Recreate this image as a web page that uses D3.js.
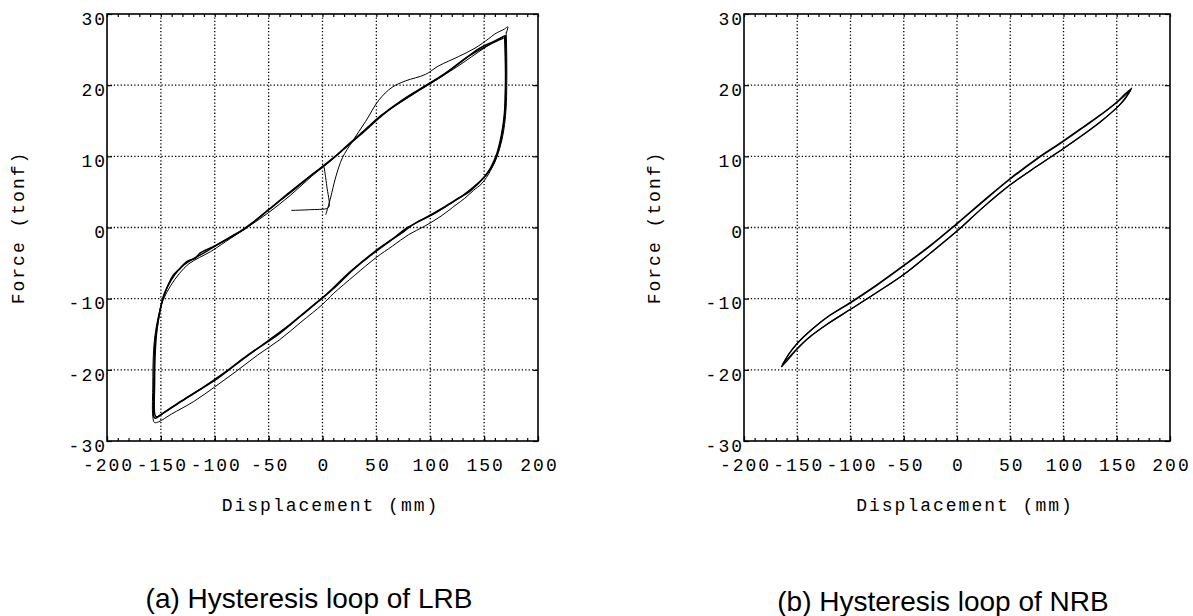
<!DOCTYPE html>
<html>
<head>
<meta charset="utf-8">
<script src="https://cdn.jsdelivr.net/npm/d3@7"></script>
<style>
  body { margin: 0; background: #fff; }
  svg { display: block; }
</style>
</head>
<body>
<svg id="chart" width="1193" height="616"></svg>
<script>
// Axis ticks shared by both panels
const xTicks = [-200, -150, -100, -50, 0, 50, 100, 150, 200];
const yTicks = [-30, -20, -10, 0, 10, 20, 30];

// Lead rubber bearing (LRB): displacement (mm), force (tonf)
// first loading from rest
const lrbStartA = [[-29, 2.4], [-12, 2.5], [4.6, 2.7], [6.2, 3.0], [4, 5.8], [1.5, 8.5]];
const lrbStartB = [[3, 1.8], [5, 2.8], [7.7, 4.3], [12.3, 7.1], [18.5, 9.8], [27.7, 12.1], [40, 14.9],
  [52.3, 17.9], [64.6, 19.7], [77, 20.6], [95.4, 21.5], [107.7, 22.7], [126, 24], [141.5, 25.2],
  [154, 26.5], [160, 27.2], [169, 27.9], [172, 28.2], [170.5, 27.3]];
// full cycles
const lrbCycle1 = [[170.5, 27.5], [171, 24], [171, 20], [170.5, 17], [169, 14.5], [166.5, 12.3], [162, 10],
  [156, 8], [148, 6.2], [140, 5.2], [132, 4.1], [124, 3.2], [110, 1.6], [95, 0.2], [80, -1.0], [65, -2.6],
  [50, -4.2], [30, -6.7], [10, -9.3], [0, -10.8], [-20, -13.3], [-40, -15.8], [-60, -17.9], [-80, -20.2],
  [-100, -22.4], [-120, -24.5], [-140, -26.2], [-152, -27.3], [-156, -27.4], [-157.5, -26.5], [-157.5, -22],
  [-157, -18], [-155.5, -15.2], [-152.5, -12.6], [-148, -10.2], [-141, -8.2], [-133, -6.5], [-124, -5.1],
  [-114, -4.2], [-104, -3.4], [-90, -2.0], [-70, 0], [-50, 2.1], [-30, 4.5], [-10, 7.2], [10, 9.7],
  [30, 12.4], [55, 15.8], [80, 18.3], [100, 20.2], [125, 22.6], [150, 25.2], [165, 26.6], [170, 27.0]];
const lrbCycle2 = [[170, 27.0], [170.3, 23], [170, 19], [169.5, 16.5], [167.5, 13.8], [164, 11.2], [159, 9.0],
  [152, 7.4], [144, 6.1], [136, 5.0], [124, 3.9], [110, 2.6], [95, 1.3], [78, -0.1], [65, -1.6], [50, -3.2],
  [30, -5.7], [10, -8.6], [0, -9.9], [-20, -12.4], [-40, -14.9], [-70, -18.0], [-90, -20.3], [-114, -22.8],
  [-135, -24.8], [-150, -26.3], [-155, -26.8], [-156.5, -26.6], [-156.5, -23], [-156.4, -20.4],
  [-155.5, -16.2], [-152.4, -13], [-147.7, -9.7], [-143, -8.0], [-138.5, -6.7], [-132, -5.7], [-126, -4.8],
  [-118, -4.3], [-113.7, -3.6], [-100, -2.6], [-85, -1.3], [-70.4, 0], [-50, 2.5], [-30, 5.0], [-10, 7.4],
  [0, 8.5], [12, 10.0], [23.6, 11.6], [40, 13.8], [53.4, 15.6], [75, 18.0], [99.8, 20.3], [120, 22.3],
  [146, 25.2], [160, 26.2], [169, 26.9]];
const lrbCycle3 = [[169, 26.9], [169.8, 22], [169.5, 18], [168.5, 15.5], [166, 13], [162, 10.5], [156, 8.4],
  [149, 6.9], [141, 5.8], [130, 4.5], [118, 3.3], [102, 1.8], [86, 0.6], [76, -0.5], [60, -2.2], [45, -3.9],
  [25, -6.3], [5, -9.2], [-10, -11.1], [-30, -13.6], [-55, -16.4], [-80, -19.2], [-100, -21.5],
  [-125, -23.8], [-145, -25.8], [-154, -26.6], [-155.5, -26.3], [-155.8, -22], [-155.2, -17.5],
  [-153.5, -14.2], [-149.5, -10.8], [-144, -8.4], [-137, -6.6], [-129, -5.3], [-120, -4.4], [-108, -3.4],
  [-95, -2.2], [-80, -0.9], [-65, 0.7], [-45, 3.1], [-25, 5.5], [-5, 8.0], [15, 10.4], [35, 13.0],
  [60, 16.3], [85, 18.9], [110, 21.2], [135, 24.0], [155, 25.7], [168, 26.6]];

// Natural rubber bearing (NRB)
const nrbCycle1 = [[-165, -19.6], [-158, -17.8], [-150, -16.3], [-137, -14.4], [-122, -12.6], [-100, -10.6],
  [-75, -8.1], [-50, -5.4], [-25, -2.6], [0, 0.5], [25, 3.7], [50, 6.8], [75, 9.6], [100, 12.1],
  [120, 14.2], [135, 15.8], [148, 17.3], [158, 18.6], [164, 19.6], [158, 18.2], [150, 16.8], [135, 14.9],
  [120, 13.2], [100, 11.1], [75, 8.6], [50, 6.0], [25, 2.9], [0, -0.5], [-25, -3.6], [-50, -6.6],
  [-75, -9.1], [-100, -11.5], [-122, -13.6], [-140, -15.6], [-152, -17.4], [-160, -18.8], [-165, -19.6]];
const nrbCycle2 = [[-164, -19.3], [-157, -17.6], [-149, -16.1], [-136, -14.3], [-121, -12.5], [-100, -10.5],
  [-75, -8.0], [-50, -5.3], [-25, -2.5], [0, 0.6], [25, 3.8], [50, 6.9], [75, 9.7], [100, 12.2],
  [120, 14.3], [136, 16.0], [149, 17.5], [158, 18.8], [163, 19.4], [157, 17.9], [149, 16.7], [136, 15.0],
  [120, 13.2], [100, 11.1], [75, 8.6], [50, 6.0], [25, 2.9], [0, -0.5], [-25, -3.6], [-50, -6.6],
  [-75, -9.1], [-100, -11.5], [-122, -13.6], [-140, -15.6], [-152, -17.3], [-160, -18.6], [-164, -19.3]];

const svg = d3.select('#chart');
const MONO = "'Liberation Mono', 'Courier New', monospace";
const MONO_SIZE = 18;
const MONO_SPACING = 2.0;

const panels = [
  { left: 107, right: 538, top: 14, bottom: 441, yTitleX: 18,
    loops: [
      { pts: lrbStartA, w: 1.0 }, { pts: lrbStartB, w: 1.0 },
      { pts: lrbCycle1, w: 1.0 }, { pts: lrbCycle2, w: 1.6 }, { pts: lrbCycle3, w: 1.4 }
    ],
    caption: '(a) Hysteresis loop of LRB', capX: 309, capY: 608 },
  { left: 744, right: 1170, top: 14, bottom: 441, yTitleX: 654,
    loops: [ { pts: nrbCycle1, w: 1.2 }, { pts: nrbCycle2, w: 1.2 } ],
    caption: '(b) Hysteresis loop of NRB', capX: 943, capY: 611 }
];

function styleAxis(sel) {
  sel.attr('font-family', MONO).attr('font-size', MONO_SIZE);
  sel.select('.domain').remove();
  sel.selectAll('.tick line').attr('stroke', '#000').attr('stroke-width', 1.2);
}

function monoText(sel) {
  sel.attr('font-family', MONO).attr('font-size', MONO_SIZE)
    .attr('letter-spacing', MONO_SPACING).attr('fill', '#000');
}

panels.forEach(p => {
  const w = p.right - p.left, h = p.bottom - p.top;
  const x = d3.scaleLinear().domain([-200, 200]).range([0, w]);
  const y = d3.scaleLinear().domain([-30, 30]).range([h, 0]);
  const g = svg.append('g').attr('transform', `translate(${p.left},${p.top})`);

  // dotted grid
  g.append('g').selectAll('line').data(xTicks.slice(1, -1)).join('line')
    .attr('x1', d => x(d)).attr('x2', d => x(d)).attr('y1', 0).attr('y2', h)
    .attr('stroke', '#000').attr('stroke-width', 1.3).attr('stroke-dasharray', '1.3,2.1');
  g.append('g').selectAll('line').data(yTicks.slice(1, -1)).join('line')
    .attr('y1', d => y(d)).attr('y2', d => y(d)).attr('x1', 0).attr('x2', w)
    .attr('stroke', '#000').attr('stroke-width', 1.3).attr('stroke-dasharray', '1.3,2.1');

  // minor ticks on top and bottom edges
  const minor = x.ticks(40);
  g.append('g').attr('transform', `translate(0,${h})`)
    .call(d3.axisBottom(x).tickValues(minor).tickSize(-3).tickFormat(''))
    .call(styleAxis);
  g.append('g')
    .call(d3.axisTop(x).tickValues(minor).tickSize(-3).tickFormat(''))
    .call(styleAxis);

  // labelled axes
  const ax = g.append('g').attr('transform', `translate(0,${h})`)
    .call(d3.axisBottom(x).tickValues(xTicks).tickSize(-5).tickFormat(d => String(d)))
    .call(styleAxis);
  ax.selectAll('text').call(monoText).attr('y', 0).attr('dy', '0.35em')
    .attr('transform', `translate(${MONO_SPACING / 2},24)`);

  const ay = g.append('g')
    .call(d3.axisLeft(y).tickValues(yTicks).tickSize(-5).tickFormat(d => String(d)))
    .call(styleAxis);
  ay.selectAll('text').call(monoText).attr('x', 0).attr('dy', '0.35em')
    .attr('transform', `translate(${MONO_SPACING - 2},4)`);

  g.append('g').attr('transform', `translate(${w},0)`)
    .call(d3.axisRight(y).tickValues(yTicks).tickSize(-5).tickFormat(''))
    .call(styleAxis);

  // loops
  const line = d3.line().x(d => x(d[0])).y(d => y(d[1])).curve(d3.curveCatmullRom.alpha(0.5));
  g.append('g').selectAll('path').data(p.loops).join('path')
    .attr('d', d => line(d.pts)).attr('fill', 'none').attr('stroke', '#000')
    .attr('stroke-width', d => d.w).attr('stroke-linejoin', 'round');

  // frame
  g.append('rect').attr('width', w).attr('height', h)
    .attr('fill', 'none').attr('stroke', '#000').attr('stroke-width', 1.6);

  // axis titles
  svg.append('text')
    .attr('x', (p.left + p.right) / 2 + 8).attr('y', 505)
    .attr('text-anchor', 'middle').attr('dy', '0.35em')
    .call(monoText).text('Displacement (mm)');
  svg.append('text')
    .attr('transform', `translate(${p.yTitleX},${(p.top + p.bottom) / 2}) rotate(-90)`)
    .attr('text-anchor', 'middle').attr('dy', '0.35em')
    .call(monoText).text('Force (tonf)');

  // caption
  svg.append('text').attr('x', p.capX).attr('y', p.capY).attr('text-anchor', 'middle')
    .attr('font-family', "'Liberation Sans', Arial, sans-serif").attr('font-size', 28)
    .text(p.caption);
});
</script>
</body>
</html>
